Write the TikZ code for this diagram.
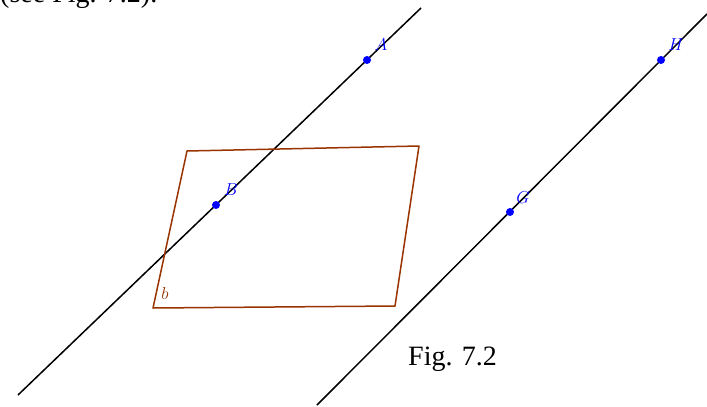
\documentclass[tikz,border=0pt]{standalone}
\usepackage{fontspec}
\setmainfont{Liberation Serif}
\definecolor{plane}{RGB}{153,51,0}
\definecolor{ptblue}{RGB}{0,0,255}
\tikzset{
  line/.style={black, line width=1.5pt},
  planeedge/.style={plane, line width=1.5pt, line join=round},
  pt/.style={circle, fill=ptblue, inner sep=0pt, minimum size=8pt},
  ptlabel/.style={text=ptblue, inner sep=0pt, font=\fontsize{19}{19}\selectfont},
  caption/.style={inner sep=0pt, font=\fontsize{28}{30}\selectfont}
}
\begin{document}
\begin{tikzpicture}[x=1pt,y=-1pt]
\useasboundingbox (0,0) rectangle (707,407);
\begin{scope}
\clip (0,0) rectangle (707,407);
\node[caption, anchor=base west] (ref) at (0,2) {(see Fig. 7.2).};
\end{scope}
% lines
\coordinate (l1a) at (18,395);
\coordinate (l1b) at (421,8);
\coordinate (l2a) at (317,405);
\coordinate (l2b) at (707,14);
\draw[line] (l1a) -- (l1b);
\draw[line] (l2a) -- (l2b);
% plane
\coordinate (p1) at (187,151);
\coordinate (p2) at (419,146);
\coordinate (p3) at (395,306);
\coordinate (p4) at (153,308);
\draw[planeedge] (p1) -- (p2) -- (p3) -- (p4) -- cycle;
\node[text=plane, inner sep=0pt, font=\fontsize{18}{18}\selectfont] (lb) at (165,293) {$b$};
% points
\node[pt] (A) at (367,60) {};
\node[pt] (B) at (216,205) {};
\node[pt] (G) at (510,212) {};
\node[pt] (H) at (661,60) {};
\node[ptlabel] (lA) at (381,45) {$A$};
\node[ptlabel] (lB) at (231,190) {$B$};
\node[ptlabel] (lG) at (523,198) {$G$};
\node[ptlabel] (lH) at (676,45) {$H$};
% caption
\node[caption, anchor=base west] (fig) at (408,365) {Fig. 7.2};
\end{tikzpicture}
\end{document}
